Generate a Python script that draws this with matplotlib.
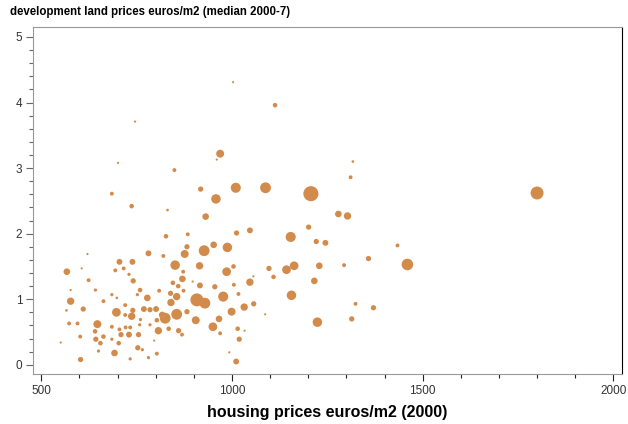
import matplotlib
matplotlib.use("Agg")
import matplotlib.pyplot as plt
import numpy as np
from matplotlib.ticker import MultipleLocator

plt.rcParams['font.family'] = ['Liberation Sans', 'DejaVu Sans']

# housing prices euros/m2 (2000)
house_price = [
    1003, 1113, 746, 701, 969, 960, 849, 1317, 1311, 685,
    918, 1010, 1088, 1207, 1800, 958, 737, 831, 931, 1279,
    1303, 1201, 827, 884, 1012, 1047, 1154, 1221, 1245, 1434,
    882, 876, 927, 952, 988, 621, 781, 820, 705, 739,
    851, 915, 986, 1004, 1358, 1460, 1229, 1294, 1143, 1163,
    1097, 1109, 1056, 567, 606, 694, 716, 730, 872, 741,
    624, 870, 845, 859, 873, 916, 955, 1005, 897, 1047,
    1216, 759, 642, 577, 752, 685, 698, 778, 809, 839,
    855, 840, 908, 929, 977, 1017, 577, 663, 610, 566,
    697, 740, 737, 720, 720, 760, 769, 785, 801, 817,
    825, 855, 803, 882, 905, 1156, 1057, 1032, 999, 1087,
    1224, 1324, 1371, 1314, 573, 595, 647, 685, 705, 721,
    733, 758, 785, 807, 834, 860, 950, 966, 1015, 1033,
    969, 869, 641, 602, 663, 643, 685, 709, 730, 755,
    703, 655, 796, 753, 765, 551, 650, 692, 803, 781,
    733, 603, 993, 1019, 1011,
]

# development land prices euros/m2 (median 2000-7)
land_price = [
    4.31, 3.96, 3.71, 3.08, 3.22, 3.13, 2.97, 3.10, 2.86, 2.61,
    2.68, 2.70, 2.70, 2.61, 2.62, 2.53, 2.42, 2.36, 2.26, 2.30,
    2.27, 2.10, 1.96, 1.99, 2.01, 2.05, 1.95, 1.88, 1.86, 1.82,
    1.80, 1.69, 1.74, 1.83, 1.79, 1.69, 1.70, 1.66, 1.57, 1.57,
    1.52, 1.51, 1.42, 1.50, 1.62, 1.53, 1.51, 1.52, 1.45, 1.51,
    1.47, 1.34, 1.35, 1.42, 1.47, 1.44, 1.47, 1.38, 1.42, 1.28,
    1.29, 1.31, 1.25, 1.20, 1.13, 1.21, 1.19, 1.22, 1.27, 1.26,
    1.28, 1.14, 1.14, 1.14, 1.07, 1.07, 1.02, 1.02, 1.13, 1.09,
    1.04, 0.95, 0.99, 0.94, 1.04, 1.08, 0.97, 0.97, 0.85, 0.83,
    0.80, 0.83, 0.74, 0.76, 0.91, 0.69, 0.85, 0.84, 0.85, 0.76,
    0.71, 0.77, 0.68, 0.81, 0.68, 1.06, 0.93, 0.88, 0.81, 0.77,
    0.65, 0.93, 0.87, 0.70, 0.63, 0.63, 0.62, 0.58, 0.54, 0.57,
    0.57, 0.61, 0.61, 0.52, 0.55, 0.52, 0.58, 0.70, 0.55, 0.52,
    0.48, 0.46, 0.51, 0.43, 0.43, 0.39, 0.39, 0.46, 0.46, 0.46,
    0.33, 0.33, 0.37, 0.26, 0.23, 0.34, 0.21, 0.18, 0.17, 0.11,
    0.09, 0.08, 0.19, 0.39, 0.05,
]

# relative weight of each area (bubble area)
weight = [
    2, 16, 2, 2, 53, 2, 11, 4, 11, 11,
    22, 86, 100, 196, 144, 76, 16, 4, 36, 36,
    45, 22, 16, 11, 22, 28, 86, 22, 28, 11,
    22, 53, 100, 36, 76, 2, 28, 11, 28, 28,
    76, 45, 64, 16, 22, 114, 36, 11, 64, 64,
    22, 16, 2, 36, 2, 11, 11, 7, 11, 22,
    11, 36, 16, 16, 11, 28, 22, 11, 2, 45,
    36, 16, 7, 2, 7, 7, 4, 36, 11, 22,
    45, 45, 144, 100, 86, 11, 45, 11, 22, 4,
    64, 22, 45, 11, 11, 7, 28, 22, 28, 36,
    100, 100, 16, 22, 53, 76, 22, 45, 53, 2,
    76, 11, 22, 22, 11, 11, 53, 11, 11, 11,
    11, 7, 7, 45, 16, 22, 64, 36, 16, 2,
    11, 11, 16, 11, 16, 22, 7, 22, 28, 22,
    16, 16, 2, 22, 7, 2, 7, 36, 11, 7,
    7, 22, 2, 22, 28,
]

x = np.array(house_price)
y = np.array(land_price)
w = np.array(weight)

fig = plt.figure(figsize=(6.28, 4.24), dpi=100)
ax = fig.add_axes([0.053, 0.118, 0.937, 0.818])

# bubble area grows with weight, with a small floor so the tiny ones show
ax.scatter(x, y, s=(w * 1.15 + 2.5) * 0.72 ** 2, color='#d28b4b',
           edgecolors='none', zorder=3)

ax.set_xlim(479, 2022)
ax.set_ylim(-0.14, 5.15)
ax.xaxis.set_major_locator(MultipleLocator(500))
ax.xaxis.set_minor_locator(MultipleLocator(100))
ax.yaxis.set_major_locator(MultipleLocator(1))
ax.yaxis.set_minor_locator(MultipleLocator(0.2))

for side in ['left', 'bottom', 'top']:
    ax.spines[side].set_color('#999999')
ax.spines['right'].set_color('#000000')

ax.tick_params(axis='both', which='major', length=5, width=0.8, labelsize=8.5,
               labelcolor='#333333', pad=3)
ax.tick_params(axis='both', which='minor', length=3, width=0.8)
ax.tick_params(axis='x', which='both', color='#222222')
ax.tick_params(axis='y', which='both', color='#666666')

ax.set_xlabel('housing prices euros/m2 (2000)', fontsize=11.5, fontweight='bold', labelpad=6)
fig.text(0.016, 0.972, 'development land prices euros/m2 (median 2000-7)',
         fontsize=8.3, fontweight='bold', va='center', ha='left')

fig.savefig('out.png', dpi=100)
